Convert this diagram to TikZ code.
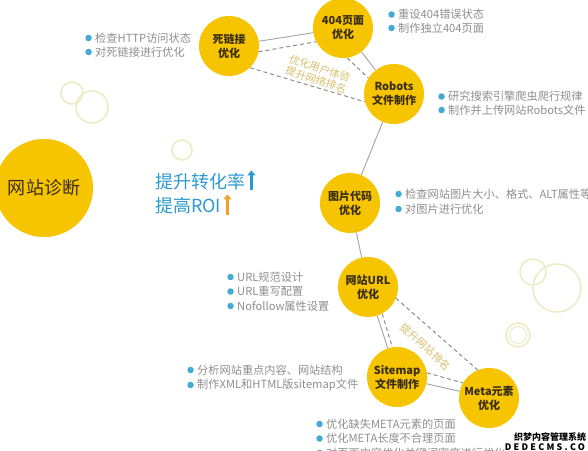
\documentclass[tikz,border=0pt]{standalone}
\usepackage{fontspec}
\setmainfont{Noto Sans CJK SC}
\usetikzlibrary{arrows.meta}
\definecolor{gold}{HTML}{F6C500}
\definecolor{darktext}{HTML}{3A2E10}
\definecolor{itemgray}{HTML}{8E8E8E}
\definecolor{bulletblue}{HTML}{45A9D4}
\definecolor{linegray}{HTML}{A2A2A2}
\definecolor{dashgray}{HTML}{8C8C8C}
\definecolor{tan}{HTML}{D8BE6A}
\definecolor{headblue}{HTML}{2C9AD0}
\definecolor{arroworange}{HTML}{F0A126}
\definecolor{bubble}{HTML}{ECECC4}

\begin{document}
\begin{tikzpicture}[x=1pt,y=-1pt,
  topic/.style={circle,fill=gold,minimum size=60pt,inner sep=0pt,align=center,
    font=\fontsize{11}{14}\selectfont\bfseries,text=darktext},
  hub/.style={circle,fill=gold,minimum size=98pt,inner sep=0pt,
    font=\fontsize{18}{20}\selectfont,text=darktext},
  link/.style={draw=linegray,line width=0.9pt},
  dashlink/.style={draw=dashgray,line width=1pt,dash pattern=on 4pt off 3pt},
  dot/.style={circle,fill=bulletblue,inner sep=0pt,minimum size=6.5pt},
  item/.style={anchor=west,inner sep=0pt,text=itemgray,font=\fontsize{11.2}{12}\selectfont,
    label={[dot,label distance=3pt]left:{}}},
  note/.style={text=tan,align=center,font=\fontsize{10.5}{12}\selectfont},
  head/.style={anchor=west,inner sep=0pt,text=headblue,font=\fontsize{18}{20}\selectfont},
  uparrow/.style={line width=3pt,-{Triangle[width=8pt,length=5pt]}},
  bubbleline/.style={draw=bubble,line width=1.6pt}]
  \useasboundingbox (0,0) rectangle (588,450);

  % pale bubbles
  \foreach \x/\y/\r in {72/93/11, 92/107/16, 182/150/10, 533/272/13, 557/288/24, 518/335/12}
    \draw[bubbleline] (\x,\y) circle (\r);
  \draw[bubbleline,line width=1pt] (518,335) circle (8.5);

  % hub
  \node[hub] (diag) at (44,188) {网站诊断};

  % topics
  \node[topic] (deadlink) at (229,46) {死链接\\优化};
  \node[topic] (page404) at (343,28) {404页面\\优化};
  \node[topic] (robots) at (394,94) {Robots\\文件制作};
  \node[topic] (images) at (350,203) {图片代码\\优化};
  \node[topic] (url) at (368,287) {网站URL\\优化};
  \node[topic] (sitemap) at (397,377) {Sitemap\\文件制作};
  \node[topic] (meta) at (489,398) {Meta元素\\优化};

  \draw[link] (deadlink) -- (page404) -- (robots) -- (images) -- (url) -- (sitemap) -- (meta);

  % dashed groups
  \draw[dashlink] (deadlink.-11) -- (page404.207);
  \draw[dashlink] (deadlink.-46) -- (robots.195);
  \draw[dashlink] (page404.-82) -- (robots.148);
  \node[note,rotate=-18] (ux) at (318,74) {优化用户体验\\提升网络排名};

  \draw[dashlink] (url.-22) -- (meta.112);
  \draw[dashlink] (url.-62) -- (sitemap.99);
  \draw[dashlink] (sitemap.8) -- (meta.150);
  \node[note,rotate=-42] (rank) at (426,347) {提升网站排名};

  % bullet lists
  \foreach \t [count=\i] in {检查HTTP访问状态,对死链接进行优化}
    \node[item] (dl\i) at (95,24+14*\i) {\t};
  \foreach \t [count=\i] in {重设404错误状态,制作独立404页面}
    \node[item] (pg\i) at (398,1+13.5*\i) {\t};
  \foreach \t [count=\i] in {研究搜索引擎爬虫爬行规律,制作并上传网站Robots文件}
    \node[item] (rb\i) at (448,83+13.5*\i) {\t};
  \foreach \t [count=\i] in {检查网站图片大小、格式、ALT属性等,对图片进行优化}
    \node[item] (im\i) at (405,179+15*\i) {\t};
  \foreach \t [count=\i] in {URL规范设计,URL重写配置,Nofollow属性设置}
    \node[item] (ul\i) at (237,262.5+14.5*\i) {\t};
  \foreach \t [count=\i] in {分析网站重点内容、网站结构,制作XML和HTML版sitemap文件}
    \node[item] (sm\i) at (197,355+15*\i) {\t};
  \foreach \t [count=\i] in {优化缺失META元素的页面,优化META长度不合理页面,对页面内容优化关键词密度进行优化}
    \node[item] (mt\i) at (326,409.5+14.5*\i) {\t};

  % goals
  \node[head] (rate) at (155,182) {提升转化率};
  \node[head] (roi) at (155,206) {提高ROI};
  \draw[uparrow,headblue] ([xshift=6pt,yshift=1pt]rate.south east) -- ([xshift=6pt,yshift=3pt]rate.north east);
  \draw[uparrow,arroworange] ([xshift=6pt,yshift=0pt]roi.south east) -- ([xshift=6pt,yshift=3pt]roi.north east);

  % watermark
  \node[font=\fontsize{9}{10}\selectfont\bfseries,inner sep=0pt] (wm) at (550,437) {织梦内容管理系统};
  \node[font=\fontsize{9}{10}\selectfont\bfseries\addfontfeatures{LetterSpace=25},inner sep=0pt,below=1.5pt] (wm2) at (wm.south) {DEDECMS.COM};
\end{tikzpicture}
\end{document}
